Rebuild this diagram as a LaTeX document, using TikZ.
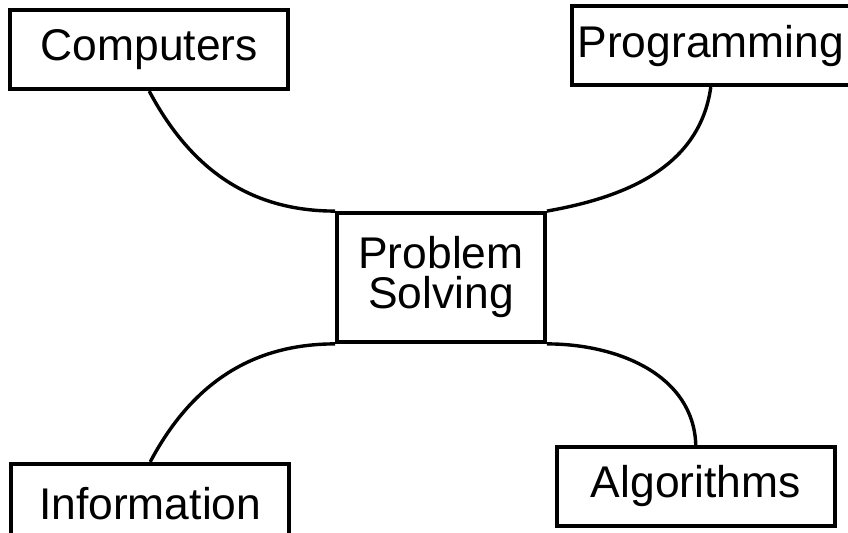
\documentclass[tikz,border=0pt]{standalone}
\usepackage{fontspec}
\setsansfont{Liberation Sans}
\usepackage{tikz}
\usetikzlibrary{positioning}

\begin{document}
\begin{tikzpicture}[
        box/.style={draw, line width=1.9pt, minimum width=139pt, minimum height=39.5pt, inner sep=2pt, align=center, font=\sffamily\fontsize{22.2}{20}\selectfont},
        hub/.style={box, minimum width=104pt, minimum height=64.5pt},
        link/.style={line width=1.7pt, draw=black}
    ]
    \useasboundingbox (0,0) rectangle (424pt,-266.5pt);

    \node[hub] (ps) at (220.5pt,-138.75pt) {Problem\\Solving};

    \node[box, above left=60pt and 22.5pt of ps.north west, anchor=south east] (comp) {Computers};
    \node[box, above right=62pt and 11.5pt of ps.north east, anchor=south west] (prog) {Programming};
    \node[box, below left=59pt and 22pt of ps.south west, anchor=north east] (info) {Information};
    \node[box, below right=50.5pt and 4pt of ps.south east, anchor=north west] (algo) {Algorithms};

    \draw[link] (comp.south) to[out=-62, in=180] (ps.north west);
    \draw[link] (prog.south) to[out=-98, in=10] (ps.north east);
    \draw[link] (ps.south west) to[out=180, in=62] (info.north);
    \draw[link] (ps.south east) to[out=0, in=92] (algo.north);

\end{tikzpicture}
\end{document}
